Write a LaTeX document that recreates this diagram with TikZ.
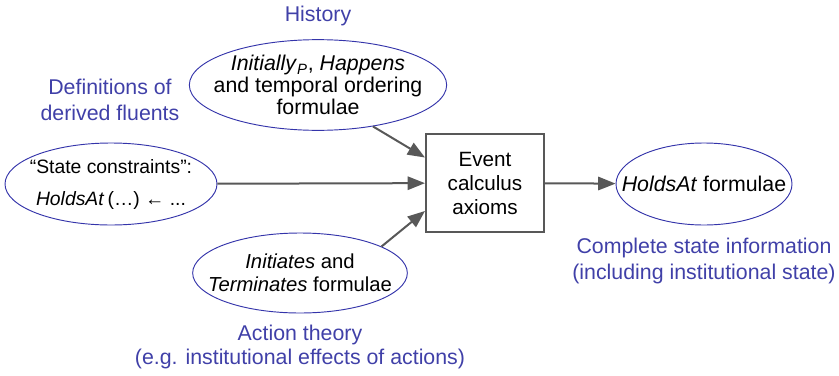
\documentclass[tikz,border=0pt]{standalone}
\usepackage{fontspec}
\setmainfont{Liberation Sans}
\usepackage{xcolor}
\usepackage{tikz}
\usetikzlibrary{arrows.meta,positioning,shapes.geometric}

\definecolor{ecblue}{RGB}{52,52,170}
\definecolor{lblblue}{RGB}{64,64,168}
\definecolor{ecgray}{RGB}{88,88,88}

\begin{document}
\begin{tikzpicture}
            [x=0.75pt,y=-0.75pt,font=\fontsize{16}{17}\selectfont,
             blob/.style={ellipse,draw=ecblue,line width=0.7pt,inner sep=0pt},
             txt/.style={align=center,inner sep=0pt},
             axbox/.style={rectangle,draw=ecgray,line width=1.5pt,inner sep=0pt,align=center,
                 minimum width=88.5pt,minimum height=74pt},
             lbl/.style={text=lblblue,align=center,inner sep=0pt},
             feed/.style={draw=ecgray,line width=1.5pt,-{Triangle[length=13pt,width=10pt]}}]
            \useasboundingbox (0,0) rectangle (839,375);
            % the axioms in the middle
            \node[axbox,font=\fontsize{15.5}{17}\selectfont] (ax) at (485,183) {Event\\[1pt]calculus\\[1pt]axioms};
            % inputs
            \node[blob,minimum width=193pt,minimum height=68pt] (hist) at (318,85) {};
            \node[txt] (histtxt) at (hist)
                {\textit{Initially}\textsubscript{\textit{P}}, \textit{Happens}\\[-0.5pt]and temporal ordering\\[-0.5pt]formulae};
            \node[blob,minimum width=159pt,minimum height=61.5pt] (sc) at (111,184) {};
            \node[txt,font=\fontsize{14.5}{16}\selectfont] (sctxt) at (sc)
                {“State constraints”:\\[8pt]\textit{HoldsAt}\,(…) ← ...};
            \node[blob,minimum width=161pt,minimum height=60pt] (act) at (300,273) {};
            \node[txt,font=\fontsize{15.2}{17}\selectfont] (acttxt) at (act)
                {\textit{Initiates} and\\[0pt]\textit{Terminates} formulae};
            % output
            \node[blob,minimum width=132pt,minimum height=61.5pt] (out) at (704,184) {};
            \node[txt] (outtxt) at (out) {\textit{HoldsAt} formulae};
            % captions
            \node[lbl] (histlbl) at (318,16) {History};
            \node[lbl] (sclbl) at (110,100) {Definitions of\\[2pt]derived fluents};
            \node[lbl] (actlbl) at (300,347) {Action theory\\[1pt](e.g. institutional effects of actions)};
            \node[lbl] (outlbl) at (704,261) {Complete state information\\[3pt](including institutional state)};
            % arrows
            \path[feed] (hist.-37) -- (ax.157);
            \path[feed] (sc) -- (ax);
            \path[feed] (act.18) -- (ax.205);
            \path[feed] (ax) -- (out);
\end{tikzpicture}
\end{document}
